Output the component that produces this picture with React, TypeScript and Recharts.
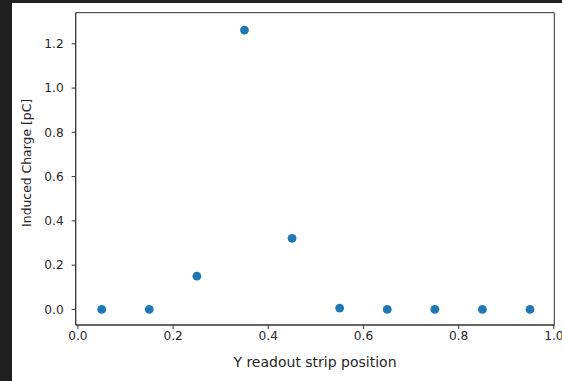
import React from 'react';
import { ScatterChart, Scatter, XAxis, YAxis, ReferenceArea } from 'recharts';

const positions = [0.05, 0.15, 0.25, 0.35, 0.45, 0.55, 0.65, 0.75, 0.85, 0.95];
const charges = [0.0, 0.0, 0.15, 1.262, 0.321, 0.006, 0.0, 0.0, 0.0, 0.0];
const xTicks = [0, 0.2, 0.4, 0.6, 0.8, 1.0];
const yTicks = [0, 0.2, 0.4, 0.6, 0.8, 1.0, 1.2];
const xDomain: [number, number] = [-0.0046, 1.001];
const yDomain: [number, number] = [-0.0705, 1.3405];

const data = positions.map((x, i) => ({ x, y: charges[i] }));

const FONT = '"DejaVu Sans", sans-serif';
const TEXT = '#262626';
const LINE = '#333333';

const Dot = (props: any) => {
  const { cx, cy } = props;
  if (cx == null || cy == null) return null;
  return <circle cx={cx} cy={cy} r={4.4} fill="#1f77b4" />;
};

const YLabel = (props: any) => {
  const vb = props.viewBox || { x: 0, y: 0, width: 0, height: 0 };
  const x = vb.x + 15;
  const y = vb.y + vb.height / 2 - 6;
  return (
    <text
      x={x}
      y={y}
      transform={`rotate(-90 ${x} ${y})`}
      textAnchor="middle"
      dominantBaseline="central"
      fontFamily={FONT}
      fontSize={12.4}
      fill={TEXT}
    >
      Induced Charge [pC]
    </text>
  );
};

const XLabel = (props: any) => {
  const vb = props.viewBox || { x: 0, y: 0, width: 0, height: 0 };
  const x = vb.x + vb.width / 2;
  const y = vb.y + 37;
  return (
    <text
      x={x}
      y={y}
      textAnchor="middle"
      dominantBaseline="central"
      fontFamily={FONT}
      fontSize={14}
      fill={TEXT}
    >
      Y readout strip position
    </text>
  );
};

export default function App() {
  return (
    <div
      style={{
        position: 'absolute',
        left: 0,
        top: 0,
        width: 562,
        height: 381,
        background: '#1f1f1f',
        overflow: 'hidden',
      }}
    >
      <div
        style={{
          position: 'absolute',
          left: 12,
          top: 3,
          width: 550,
          height: 378,
          background: '#ffffff',
        }}
      >
        <ScatterChart
          width={550}
          height={378}
          margin={{ top: 9.7, right: 7.7, bottom: 0, left: 0 }}
        >
          <XAxis
            type="number"
            dataKey="x"
            domain={xDomain}
            ticks={xTicks}
            allowDataOverflow
            tickFormatter={(v: number) => v.toFixed(1)}
            height={56}
            tickSize={4}
            tickMargin={2}
            axisLine={{ stroke: LINE, strokeWidth: 1 }}
            tickLine={{ stroke: LINE, strokeWidth: 1 }}
            tick={{ fontFamily: FONT, fontSize: 12.2, fill: TEXT }}
            label={<XLabel />}
          />
          <YAxis
            type="number"
            dataKey="y"
            domain={yDomain}
            ticks={yTicks}
            allowDataOverflow
            tickFormatter={(v: number) => v.toFixed(1)}
            width={63.7}
            tickSize={4}
            tickMargin={8}
            axisLine={{ stroke: LINE, strokeWidth: 1 }}
            tickLine={{ stroke: LINE, strokeWidth: 1 }}
            tick={{ fontFamily: FONT, fontSize: 12.2, fill: TEXT }}
            label={<YLabel />}
          />
          <ReferenceArea
            x1={xDomain[0]}
            x2={xDomain[1]}
            y1={yDomain[0]}
            y2={yDomain[1]}
            fill="none"
            stroke={LINE}
            strokeWidth={1}
            ifOverflow="visible"
          />
          <Scatter data={data} shape={<Dot />} isAnimationActive={false} />
        </ScatterChart>
      </div>
    </div>
  );
}
